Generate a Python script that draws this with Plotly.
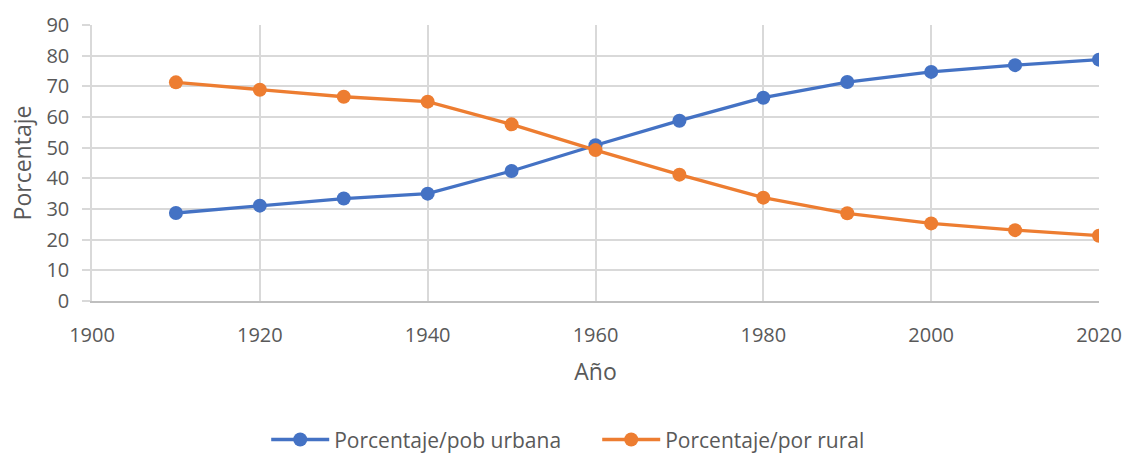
import plotly.graph_objects as go

years = [1910, 1920, 1930, 1940, 1950, 1960, 1970, 1980, 1990, 2000, 2010, 2020]
urbana = [28.7, 31.1, 33.4, 35.0, 42.4, 50.8, 58.8, 66.3, 71.4, 74.7, 76.9, 78.7]
rural = [71.3, 68.9, 66.6, 65.0, 57.6, 49.2, 41.2, 33.7, 28.6, 25.3, 23.1, 21.3]
x_ticks = [1900, 1920, 1940, 1960, 1980, 2000, 2020]
y_ticks = [0, 10, 20, 30, 40, 50, 60, 70, 80, 90]

FONT = "'Open Sans', sans-serif"
TXT = "#595959"
GRID = "#d9d9d9"

fig = go.Figure()
fig.add_trace(go.Scatter(x=years, y=urbana, mode="lines+markers",
                         name="Porcentaje/pob urbana",
                         line=dict(color="#4472c4", width=3.3),
                         marker=dict(color="#4472c4", size=14)))
fig.add_trace(go.Scatter(x=years, y=rural, mode="lines+markers",
                         name="Porcentaje/por rural",
                         line=dict(color="#ed7d31", width=3.3),
                         marker=dict(color="#ed7d31", size=14)))

fig.update_layout(
    width=1127, height=453,
    margin=dict(l=92, r=28, t=24.5, b=152, autoexpand=False),
    plot_bgcolor="white", paper_bgcolor="white",
    font=dict(family=FONT, size=20, color=TXT),
    legend=dict(orientation="h", x=0.173, xanchor="left", y=-0.503, yanchor="middle",
                font=dict(size=21, color=TXT), itemwidth=58, tracegroupgap=0,
                entrywidth=258, entrywidthmode="pixels"),
    xaxis=dict(range=[1900, 2020], tickvals=x_ticks, showgrid=True, gridcolor=GRID,
               gridwidth=1.5, showline=True, linecolor="#bfbfbf", linewidth=1.5,
               ticks="", ticklabelstandoff=15, zeroline=False, automargin=False,
               tickfont=dict(size=20),
               title=dict(text="Año", font=dict(size=23, color=TXT), standoff=17)),
    yaxis=dict(range=[0, 90], tickvals=y_ticks, showgrid=True, gridcolor=GRID,
               gridwidth=1.5, showline=True, linecolor=GRID, linewidth=1.5,
               ticks="outside", ticklen=8, tickcolor=GRID, tickwidth=1.5, zeroline=False,
               automargin=False, tickfont=dict(size=20), ticklabelstandoff=9,
               title=dict(text="Porcentaje", font=dict(size=23, color=TXT), standoff=8)),
)

fig.write_html("out.html", config={"displayModeBar": False},
               post_script="document.body.style.margin='0';document.body.style.overflow='hidden';")
